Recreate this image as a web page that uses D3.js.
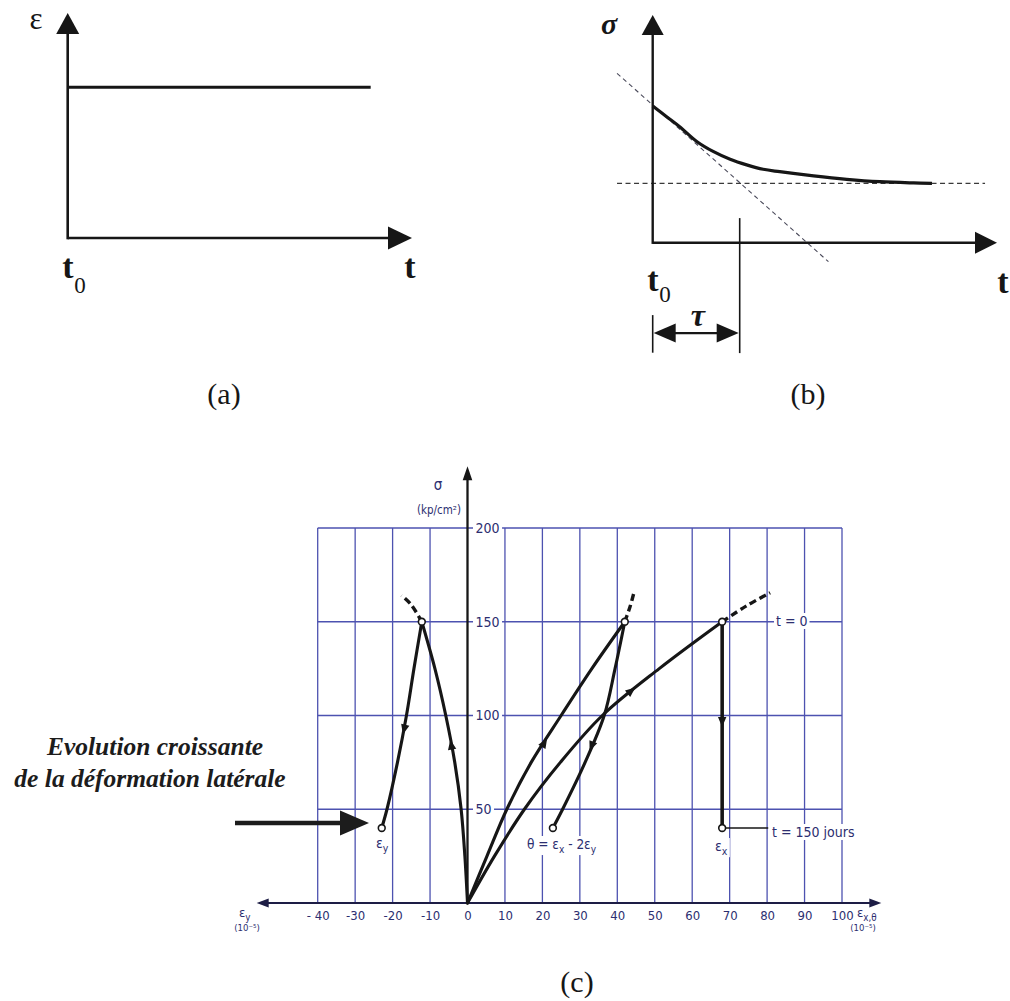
<!DOCTYPE html>
<html>
<head>
<meta charset="utf-8">
<script src="https://cdn.jsdelivr.net/npm/d3@7"></script>
<style>
  html, body { margin: 0; padding: 0; background: #fff; }
  svg { display: block; }
</style>
</head>
<body>
<svg id="fig" width="1010" height="1001"></svg>
<script>
// ---------------- data ----------------
// (a) imposed constant strain after t0 (normalised units)
const strainTime  = [0, 0.88];
const strainLevel = [0.67, 0.67];

// (b) stress relaxation under that strain (time in units of tau)
const relaxTime   = [0, 0.16, 0.31, 0.51, 0.70, 0.89, 1.08, 1.27, 1.46, 1.85, 2.23, 2.61, 3.00, 3.21];
const relaxStress = [68.4, 63.0, 58.0, 50.5, 45.5, 41.7, 38.9, 36.7, 35.5, 33.4, 31.7, 30.5, 29.9, 29.7];
const relaxAsymptote = 29.7;
const tangentTime   = [-0.41, 2.02];
const tangentStress = [84.7, -9.5];
const tau = 1;

// (c) stress (kp/cm2) versus strains (1e-5)
const xTicks      = [-40, -30, -20, -10, 0, 10, 20, 30, 40, 50, 60, 70, 80, 90, 100];
const xTickLabels = ["- 40", "-30", "-20", "-10", "0", "10", "20", "30", "40", "50", "60", "70", "80", "90", "100"];
const yTicks      = [50, 100, 150, 200];
const yTickLabels = ["50", "100", "150", "200"];

// lateral strain eps_y
const eyLoadStrain  = [0, -0.7, -1.7, -3.4, -5.8, -8.7, -12.2];
const eyLoadStress  = [0, 25, 50, 75, 100, 125, 150];
const eyExtStrain   = [-12.2, -15.0, -17.6];
const eyExtStress   = [150, 159, 164];
const eyCreepStrain = [-12.2, -14.3, -16.3, -18.7, -21.5, -22.9];
const eyCreepStress = [150, 125, 100, 75, 50, 40];

// volumetric strain theta
const thLoadStrain  = [0, 5.2, 10.5, 17.0, 25.0, 33.2, 42.0];
const thLoadStress  = [0, 25, 50, 75, 100, 125, 150];
const thExtStrain   = [42.0, 43.4, 44.5];
const thExtStress   = [150, 158, 166];
const thCreepStrain = [42.0, 39.4, 36.5, 31.4, 25.4, 22.8];
const thCreepStress = [150, 125, 100, 75, 50, 40];

// axial strain eps_x
const exLoadStrain  = [0, 7.2, 15.2, 24.8, 36.0, 51.2, 68.0];
const exLoadStress  = [0, 25, 50, 75, 100, 125, 150];
const exExtStrain   = [68.0, 74.5, 80.8];
const exExtStress   = [150, 158.5, 165.5];
const exCreepStrain = [68.0, 68.0];
const exCreepStress = [150, 40];

// direction-of-travel arrows along the paths
const flowStrain   = [-4.4, -17.0, 20.7, 33.0, 44.0, 68.0];
const flowStress   = [85, 92, 86, 83, 113.6, 96];
const flowToStrain = [-5.8, -17.5, 25.0, 31.4, 51.2, 68.0];
const flowToStress = [100, 88, 100, 75, 125, 90];

// open circles: t = 0 and t = 150 days
const nodeStrain = [-12.2, -22.9, 42.0, 22.8, 68.0, 68.0];
const nodeStress = [150, 40, 150, 40, 150, 40];

// ---------------- drawing ----------------
const svg = d3.select("#fig");
const ink = "#161616";
const gridBlue = "#4d52b0";
const letterBlue = "#2c2e70";
const serif = "'Liberation Serif', 'Times New Roman', serif";
const lettering = "'DejaVu Sans Condensed', 'DejaVu Sans', sans-serif";

svg.append("rect").attr("width", 1010).attr("height", 1001).attr("fill", "#fff");

// filled triangular arrow head, tip at (x, y), pointing along angle (deg)
function head(g, x, y, angleDeg, len, half, fill) {
  g.append("path")
    .attr("d", `M0,0L${-len},${-half}L${-len},${half}Z`)
    .attr("transform", `translate(${x},${y}) rotate(${angleDeg})`)
    .attr("fill", fill || ink);
}

// white box behind a text element so grid lines break around it
function backdrop(sel, padX, padY) {
  sel.each(function () {
    const b = this.getBBox();
    d3.select(this.parentNode).insert("rect", () => this)
      .attr("x", b.x - padX).attr("y", b.y - padY)
      .attr("width", b.width + 2 * padX).attr("height", b.height + 2 * padY)
      .attr("fill", "#fff");
  });
}

// text with subscript parts: parts = [[text, isSub], ...]
function richText(g, x, y, parts, size, anchor, color, family) {
  const t = g.append("text").attr("x", x).attr("y", y)
    .attr("font-family", family || lettering).attr("font-size", size)
    .attr("fill", color || letterBlue).attr("text-anchor", anchor || "start");
  let shifted = false;
  parts.forEach(([s, sub]) => {
    const sp = t.append("tspan").text(s);
    if (sub && !shifted) { sp.attr("dy", size * 0.3).attr("font-size", size * 0.75); shifted = true; }
    else if (sub) { sp.attr("font-size", size * 0.75); }
    else if (!sub && shifted) { sp.attr("dy", -size * 0.3); shifted = false; }
  });
  return t;
}

// ===== (a) =====
{
  const ax = d3.scaleLinear().domain([0, 1]).range([67.7, 412]);
  const ay = d3.scaleLinear().domain([0, 1]).range([238, 13]);
  const g = svg.append("g");
  g.append("line").attr("x1", ax(0)).attr("y1", ay(0)).attr("x2", ax(1) - 20).attr("y2", ay(0))
    .attr("stroke", ink).attr("stroke-width", 2.6);
  head(g, ax(1), ay(0), 0, 24, 11.5);
  g.append("line").attr("x1", ax(0)).attr("y1", ay(0) + 1.3).attr("x2", ax(0)).attr("y2", ay(1) + 18)
    .attr("stroke", ink).attr("stroke-width", 2.6);
  head(g, ax(0), ay(1), -90, 21, 11.5);
  g.append("path")
    .attr("d", d3.line()(strainTime.map((t, i) => [ax(t), ay(strainLevel[i])])))
    .attr("stroke", ink).attr("stroke-width", 2.8).attr("fill", "none");

  g.append("text").attr("x", 36).attr("y", 29).attr("text-anchor", "middle")
    .attr("font-family", serif).attr("font-size", 31).attr("fill", ink).text("ε");
  g.append("text").attr("x", 68).attr("y", 278).attr("text-anchor", "middle")
    .attr("font-family", serif).attr("font-weight", "bold").attr("font-size", 34).attr("fill", ink).text("t");
  g.append("text").attr("x", 80).attr("y", 293).attr("text-anchor", "middle")
    .attr("font-family", serif).attr("font-size", 23).attr("fill", ink).text("0");
  g.append("text").attr("x", 410).attr("y", 278).attr("text-anchor", "middle")
    .attr("font-family", serif).attr("font-weight", "bold").attr("font-size", 34).attr("fill", ink).text("t");
  g.append("text").attr("x", 224).attr("y", 404).attr("text-anchor", "middle")
    .attr("font-family", serif).attr("font-size", 30).attr("fill", ink).text("(a)");
}

// ===== (b) =====
{
  const bx = d3.scaleLinear().domain([0, 1]).range([652.7, 739.7]);
  const by = d3.scaleLinear().domain([0, 100]).range([242.7, 42.7]);
  const g = svg.append("g");
  const tEnd = bx.invert(997);
  const sTop = by.invert(15);

  // dashed guides: asymptote and initial tangent
  g.append("line").attr("x1", bx(-0.41)).attr("x2", bx(3.82))
    .attr("y1", by(relaxAsymptote)).attr("y2", by(relaxAsymptote))
    .attr("stroke", "#3a3a3a").attr("stroke-width", 1.2).attr("stroke-dasharray", "5,3.5");
  g.append("path")
    .attr("d", d3.line()(tangentTime.map((t, i) => [bx(t), by(tangentStress[i])])))
    .attr("stroke", "#4a4a5a").attr("stroke-width", 1.1).attr("stroke-dasharray", "4.5,3.5").attr("fill", "none");

  // axes
  g.append("line").attr("x1", bx(0)).attr("y1", by(0)).attr("x2", bx(tEnd) - 20).attr("y2", by(0))
    .attr("stroke", ink).attr("stroke-width", 2.4);
  head(g, bx(tEnd), by(0), 0, 22, 11);
  g.append("line").attr("x1", bx(0)).attr("y1", by(0) + 1.2).attr("x2", bx(0)).attr("y2", by(sTop) + 18)
    .attr("stroke", ink).attr("stroke-width", 2.4);
  head(g, bx(0), by(sTop), -90, 20, 11);

  // relaxation curve
  g.append("path")
    .attr("d", d3.line().curve(d3.curveCatmullRom.alpha(0.5))(relaxTime.map((t, i) => [bx(t), by(relaxStress[i])])))
    .attr("stroke", ink).attr("stroke-width", 3.2).attr("fill", "none");

  // tau dimension
  g.append("line").attr("x1", bx(tau)).attr("x2", bx(tau)).attr("y1", by(12.3)).attr("y2", by(-55.2))
    .attr("stroke", ink).attr("stroke-width", 1.6);
  g.append("line").attr("x1", bx(0)).attr("x2", bx(0)).attr("y1", by(-36.2)).attr("y2", by(-55))
    .attr("stroke", ink).attr("stroke-width", 1.6);
  const yd = by(-45.2);
  g.append("line").attr("x1", bx(0) + 14).attr("x2", bx(tau) - 14).attr("y1", yd).attr("y2", yd)
    .attr("stroke", ink).attr("stroke-width", 2.2);
  head(g, bx(0) + 1, yd, 180, 22, 9.5);
  head(g, bx(tau) - 1, yd, 0, 22, 9.5);
  g.append("text").attr("x", bx(0.52)).attr("y", 326).attr("text-anchor", "middle")
    .attr("font-family", serif).attr("font-style", "italic").attr("font-weight", "bold")
    .attr("font-size", 32).attr("fill", ink).text("τ");

  g.append("text").attr("x", 609).attr("y", 34).attr("text-anchor", "middle")
    .attr("font-family", serif).attr("font-weight", "bold").attr("font-style", "italic")
    .attr("font-size", 30).attr("fill", ink).text("σ");
  g.append("text").attr("x", 653).attr("y", 291).attr("text-anchor", "middle")
    .attr("font-family", serif).attr("font-weight", "bold").attr("font-size", 34).attr("fill", ink).text("t");
  g.append("text").attr("x", 665).attr("y", 302).attr("text-anchor", "middle")
    .attr("font-family", serif).attr("font-size", 23).attr("fill", ink).text("0");
  g.append("text").attr("x", 1003).attr("y", 293).attr("text-anchor", "middle")
    .attr("font-family", serif).attr("font-weight", "bold").attr("font-size", 34).attr("fill", ink).text("t");
  g.append("text").attr("x", 808).attr("y", 404).attr("text-anchor", "middle")
    .attr("font-family", serif).attr("font-size", 30).attr("fill", ink).text("(b)");
}

// ===== (c) =====
{
  const x = d3.scaleLinear().domain([-40, 100]).range([317.7, 842]);
  const y = d3.scaleLinear().domain([0, 200]).range([903, 528]);
  const g = svg.append("g");

  // grid
  const grid = g.append("g").attr("stroke", gridBlue).attr("stroke-width", 1.3);
  xTicks.filter(d => d !== 0).forEach(d => {
    grid.append("line").attr("x1", x(d)).attr("x2", x(d)).attr("y1", y(0)).attr("y2", y(200));
  });
  yTicks.forEach(d => {
    grid.append("line").attr("x1", x(-40)).attr("x2", x(100)).attr("y1", y(d)).attr("y2", y(d));
  });

  // stress tick labels to the right of the vertical axis
  const gy = g.append("g").attr("transform", `translate(${x(0)},0)`)
    .call(d3.axisRight(y).tickValues(yTicks).tickFormat((d, i) => yTickLabels[i]).tickSize(0).tickPadding(8));
  gy.select(".domain").remove();
  gy.selectAll("text").attr("font-family", lettering).attr("font-size", 14).attr("fill", letterBlue);
  backdrop(gy.selectAll("text"), 2.5, 1);

  // strain tick labels under the horizontal axis
  const gx = g.append("g").attr("transform", `translate(0,${y(0)})`)
    .call(d3.axisBottom(x).tickValues(xTicks).tickFormat((d, i) => xTickLabels[i]).tickSize(0).tickPadding(8));
  gx.select(".domain").remove();
  gx.selectAll("text").attr("font-family", lettering).attr("font-size", 13).attr("fill", letterBlue);

  // axes with arrows
  g.append("line").attr("x1", x(-56.3) + 10).attr("x2", x(110.5) - 10).attr("y1", y(0)).attr("y2", y(0))
    .attr("stroke", "#1d1d45").attr("stroke-width", 2);
  head(g, x(110.5), y(0), 0, 12, 4.5, "#1d1d45");
  head(g, x(-56.3), y(0), 180, 12, 4.5, "#1d1d45");
  g.append("line").attr("x1", x(0)).attr("x2", x(0)).attr("y1", y(0) + 1).attr("y2", y(233) + 12)
    .attr("stroke", ink).attr("stroke-width", 2.3);
  head(g, x(0), y(233), -90, 14, 4.8);

  // axis titles
  g.append("text").attr("x", 438).attr("y", 490).attr("text-anchor", "middle")
    .attr("font-family", lettering).attr("font-size", 15).attr("fill", letterBlue).text("σ");
  g.append("text").attr("x", 439).attr("y", 514).attr("text-anchor", "middle")
    .attr("font-family", lettering).attr("font-size", 11.5).attr("fill", letterBlue).text("(kp/cm²)");
  richText(g, 239, 917, [["ε", false], ["y", true]], 13, "start");
  g.append("text").attr("x", 247).attr("y", 931).attr("text-anchor", "middle")
    .attr("font-family", lettering).attr("font-size", 9.5).attr("fill", letterBlue).text("(10⁻⁵)");
  richText(g, 857, 917, [["ε", false], ["x,θ", true]], 13, "start");
  g.append("text").attr("x", 863).attr("y", 931).attr("text-anchor", "middle")
    .attr("font-family", lettering).attr("font-size", 9.5).attr("fill", letterBlue).text("(10⁻⁵)");

  // path labels (white boxes break the grid)
  const labels = g.append("g");
  const lEy = richText(labels, 376, 848, [["ε", false], ["y", true]], 14, "start");
  const lTh = richText(labels, 527, 849, [["θ = ε", false], ["x", true], [" - 2ε", false], ["y", true]], 13.5, "start");
  const lEx = richText(labels, 715, 851, [["ε", false], ["x", true]], 14, "start");
  const lT150 = labels.append("text").attr("x", 772).attr("y", 837)
    .attr("font-family", lettering).attr("font-size", 14).attr("fill", letterBlue).text("t = 150 jours");
  const lT0 = labels.append("text").attr("x", 776).attr("y", 626)
    .attr("font-family", lettering).attr("font-size", 14).attr("fill", letterBlue).text("t = 0");
  [lEy, lTh, lEx, lT150, lT0].forEach(t => backdrop(t, 2, 0));

  // curves
  const curve = d3.line().x(d => x(d[0])).y(d => y(d[1])).curve(d3.curveCatmullRom.alpha(0.5));
  const pts = (e, s) => e.map((v, i) => [v, s[i]]);
  const solid = [
    [eyLoadStrain, eyLoadStress], [eyCreepStrain, eyCreepStress],
    [thLoadStrain, thLoadStress], [thCreepStrain, thCreepStress],
    [exLoadStrain, exLoadStress]
  ];
  solid.forEach(([e, s]) => {
    g.append("path").attr("d", curve(pts(e, s))).attr("fill", "none")
      .attr("stroke", ink).attr("stroke-width", 3.1).attr("stroke-linecap", "round");
  });
  g.append("path").attr("d", curve(pts(exCreepStrain, exCreepStress))).attr("fill", "none")
    .attr("stroke", ink).attr("stroke-width", 3.6);
  [[eyExtStrain, eyExtStress], [thExtStrain, thExtStress], [exExtStrain, exExtStress]].forEach(([e, s]) => {
    g.append("path").attr("d", curve(pts(e, s))).attr("fill", "none")
      .attr("stroke", ink).attr("stroke-width", 3.4).attr("stroke-dasharray", "7,4");
  });

  // leader from final eps_x point to its time label
  g.append("line").attr("x1", x(68)).attr("x2", x(80.3)).attr("y1", y(40)).attr("y2", y(40))
    .attr("stroke", ink).attr("stroke-width", 1.6);

  // travel arrows
  flowStrain.forEach((e, i) => {
    const x0 = x(e), y0 = y(flowStress[i]);
    const x1 = x(flowToStrain[i]), y1 = y(flowToStress[i]);
    const a = Math.atan2(y1 - y0, x1 - x0);
    head(g, x0 + 4 * Math.cos(a), y0 + 4 * Math.sin(a), a * 180 / Math.PI, 10, 4.2);
  });

  // state points
  nodeStrain.forEach((e, i) => {
    g.append("circle").attr("cx", x(e)).attr("cy", y(nodeStress[i])).attr("r", 3.4)
      .attr("fill", "#fff").attr("stroke", ink).attr("stroke-width", 1.6);
  });

  // side annotation
  const note = svg.append("g");
  note.append("text").attr("x", 155).attr("y", 755).attr("text-anchor", "middle")
    .attr("font-family", serif).attr("font-style", "italic").attr("font-weight", "bold")
    .attr("font-size", 25.5).attr("fill", "#1c1c1c").text("Evolution croissante");
  note.append("text").attr("x", 150).attr("y", 787).attr("text-anchor", "middle")
    .attr("font-family", serif).attr("font-style", "italic").attr("font-weight", "bold")
    .attr("font-size", 25.5).attr("fill", "#1c1c1c").text("de la déformation latérale");
  note.append("line").attr("x1", 235).attr("x2", 345).attr("y1", 823).attr("y2", 823)
    .attr("stroke", "#1c1c1c").attr("stroke-width", 4.5);
  head(note, 369, 823, 0, 29, 12.5, "#1c1c1c");

  svg.append("text").attr("x", 577).attr("y", 992).attr("text-anchor", "middle")
    .attr("font-family", serif).attr("font-size", 30).attr("fill", ink).text("(c)");
}
</script>
</body>
</html>
